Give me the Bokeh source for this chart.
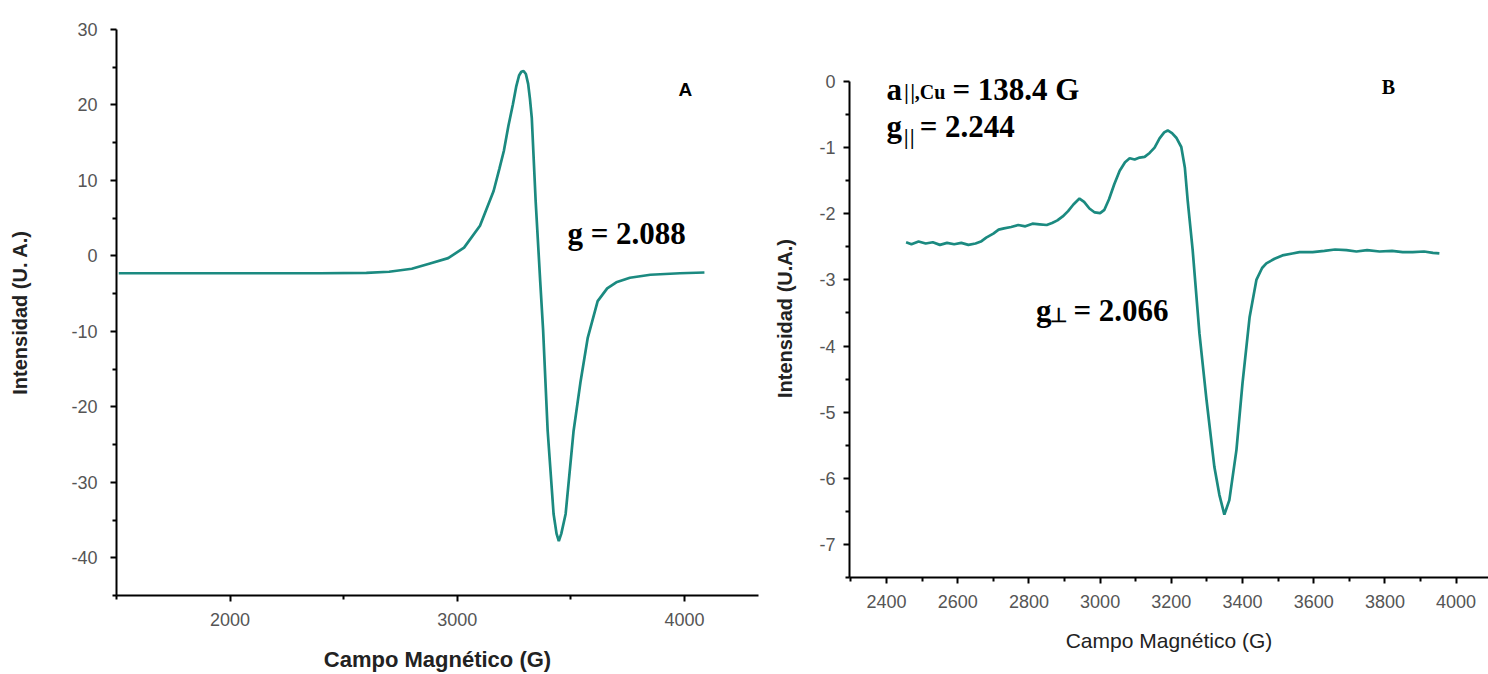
from bokeh.plotting import figure
from bokeh.models import FixedTicker, Label, Range1d, Spacer
from bokeh.layouts import row, column
from bokeh.embed import file_html
from bokeh.resources import INLINE

# ---------------- data: panel A ----------------
a_field = [1510, 1800, 2100, 2400, 2600, 2700, 2800, 2880, 2960, 3030, 3100, 3160,
           3185, 3205, 3225, 3245, 3260, 3272, 3282, 3292, 3302, 3312, 3320, 3328,
           3345, 3365, 3378, 3398, 3424, 3437, 3447, 3458, 3477, 3512, 3543, 3574,
           3618, 3660, 3700, 3760, 3850, 3980, 4088]
a_intensity = [-2.3, -2.3, -2.3, -2.3, -2.25, -2.1, -1.7, -1.0, -0.3, 1.1, 4.0, 8.6,
               11.5, 13.9, 17.2, 20.1, 22.5, 23.9, 24.4, 24.5, 24.1, 22.8, 20.8, 18.3,
               7.3, -3.3, -9.9, -23.2, -34.2, -36.8, -37.8, -36.8, -34.2, -23.2, -16.6, -10.9,
               -6.0, -4.3, -3.5, -2.9, -2.5, -2.3, -2.2]

# ---------------- data: panel B ----------------
b_field = [2455, 2470, 2490, 2510, 2530, 2550, 2570, 2590, 2610, 2630, 2650, 2665,
           2680, 2700, 2715, 2730, 2750, 2770, 2790, 2810, 2830, 2850, 2865, 2880,
           2895, 2910, 2925, 2942, 2955, 2970, 2985, 3000, 3012, 3025, 3040, 3055,
           3070, 3083, 3097, 3111, 3125, 3139, 3153, 3167, 3180, 3190, 3202, 3214,
           3228, 3238, 3246, 3260, 3279, 3299, 3321, 3335, 3349, 3363, 3383, 3400,
           3420, 3439, 3455, 3467, 3490, 3512, 3540, 3560, 3597, 3630, 3660, 3692,
           3720, 3750, 3785, 3820, 3850, 3878, 3910, 3935, 3953]
b_intensity = [-2.43, -2.46, -2.42, -2.45, -2.43, -2.47, -2.44, -2.46, -2.44, -2.47, -2.45, -2.42,
               -2.36, -2.30, -2.24, -2.22, -2.20, -2.17, -2.19, -2.15, -2.16, -2.17, -2.14, -2.10,
               -2.04, -1.96, -1.86, -1.77, -1.82, -1.92, -1.98, -1.99, -1.94, -1.78, -1.55, -1.35,
               -1.22, -1.16, -1.18, -1.15, -1.14, -1.08, -1.00, -0.86, -0.77, -0.74, -0.78, -0.85,
               -0.99, -1.30, -1.80, -2.55, -3.81, -4.82, -5.83, -6.25, -6.55, -6.33, -5.57, -4.56,
               -3.56, -3.00, -2.82, -2.75, -2.68, -2.63, -2.60, -2.58, -2.58, -2.56, -2.54, -2.55,
               -2.57, -2.55, -2.57, -2.56, -2.58, -2.58, -2.57, -2.59, -2.60]

a_xticks = [2000, 3000, 4000]
a_xminor = [1500, 2500, 3500]
a_yticks = [-40, -30, -20, -10, 0, 10, 20, 30]
a_yminor = [-45, -35, -25, -15, -5, 5, 15, 25]
b_xticks = [2400, 2600, 2800, 3000, 3200, 3400, 3600, 3800, 4000]
b_xminor = [2300, 2500, 2700, 2900, 3100, 3300, 3500, 3700, 3900]
b_yticks = [0, -1, -2, -3, -4, -5, -6, -7]
b_yminor = [-0.5, -1.5, -2.5, -3.5, -4.5, -5.5, -6.5, -7.5]
b_ybounds = (-7.5, 0)

LINE = "#1b8a80"
SANS = "Liberation Sans"
SERIF = "Liberation Serif"


def style(p, xt, xm, yt, ym, xlabel, ylabel, xlabel_bold, xlabel_size, ylabel_size):
    p.outline_line_color = None
    p.grid.visible = False
    p.background_fill_color = "white"
    p.border_fill_color = "white"
    for ax in (p.xaxis[0], p.yaxis[0]):
        ax.axis_line_color = "black"
        ax.axis_line_width = 2
        ax.major_tick_line_color = "black"
        ax.major_tick_line_width = 2
        ax.minor_tick_line_color = "black"
        ax.minor_tick_line_width = 2
        ax.major_tick_out = 6
        ax.major_tick_in = 0
        ax.minor_tick_out = 4
        ax.minor_tick_in = 0
        ax.major_label_text_font = SANS
        ax.major_label_text_font_size = "18px"
        ax.major_label_text_color = "#555555"
        ax.axis_label_text_font = SANS
        ax.axis_label_text_color = "#222222"
    p.xaxis[0].ticker = FixedTicker(ticks=xt, minor_ticks=xm)
    p.yaxis[0].ticker = FixedTicker(ticks=yt, minor_ticks=ym)
    p.yaxis[0].major_label_overrides = {v: str(v) for v in yt}
    p.xaxis[0].major_label_overrides = {v: str(v) for v in xt}
    p.xaxis[0].axis_label = xlabel
    p.yaxis[0].axis_label = ylabel
    p.xaxis[0].axis_label_text_font_style = "bold" if xlabel_bold else "normal"
    p.yaxis[0].axis_label_text_font_style = "bold"
    p.xaxis[0].axis_label_text_font_size = xlabel_size
    p.yaxis[0].axis_label_text_font_size = ylabel_size
    p.xaxis[0].major_label_standoff = 11
    p.xaxis[0].axis_label_standoff = 18


# ---------------- panel A ----------------
pa = figure(width=760, height=674, output_backend="svg", toolbar_location=None,
            x_range=Range1d(1500, 4326), y_range=Range1d(-45, 30),
            min_border_left=116, min_border_right=2, min_border_top=29, min_border_bottom=79)
style(pa, a_xticks, a_xminor, a_yticks, a_yminor,
      "Campo Magnético (G)", "Intensidad (U. A.)", True, "22px", "20px")
pa.yaxis[0].major_label_standoff = 13
pa.yaxis[0].axis_label_standoff = 37
pa.line(a_field, a_intensity, line_color=LINE, line_width=2.7)

pa.add_layout(Label(x=3485, y=3.0, text="g = 2.088", text_font=SERIF, text_font_style="bold",
                    text_font_size="31px", text_color="black", text_baseline="alphabetic"))
pa.add_layout(Label(x=4004, y=22.1, text="A", text_font=SANS, text_font_style="bold",
                    text_font_size="19px", text_color="black", text_align="center",
                    text_baseline="middle"))

# ---------------- panel B ----------------
# frame reaches a little above 0 so the annotations are not clipped; the axis line stops at 0
pb = figure(width=728, height=644, output_backend="svg", toolbar_location=None,
            x_range=Range1d(2296, 4091), y_range=Range1d(-7.5, 0.333),
            min_border_left=89, min_border_right=0, min_border_top=29, min_border_bottom=97)
style(pb, b_xticks, b_xminor, b_yticks, b_yminor,
      "Campo Magnético (G)", "Intensidad (U.A.)", False, "21px", "20px")
pb.yaxis[0].bounds = b_ybounds
pb.yaxis[0].major_label_standoff = 8
pb.yaxis[0].axis_label_standoff = 20
pb.line(b_field, b_intensity, line_color=LINE, line_width=2.7)


def lab(p, x, y, t, size):
    p.add_layout(Label(x=x, y=y, text=t, text_font=SERIF, text_font_style="bold",
                       text_font_size=size, text_color="black", text_baseline="alphabetic"))


lab(pb, 2400, -0.12, "a", "31px")
lab(pb, 2450, -0.16, "|\u200a|,Cu", "20px")
lab(pb, 2585, -0.12, "= 138.4 G", "31px")
lab(pb, 2400, -0.68, "g", "31px")
lab(pb, 2449, -0.84, "|\u200a|", "20px")
lab(pb, 2493, -0.68, "= 2.244", "31px")
lab(pb, 2820, -3.47, "g", "31px")
lab(pb, 2860, -3.53, "\u22a5", "20px")
lab(pb, 2925, -3.47, "= 2.066", "31px")
pb.add_layout(Label(x=3810, y=-0.09, text="B", text_font=SERIF, text_font_style="bold",
                    text_font_size="20px", text_color="black", text_align="center",
                    text_baseline="middle"))

layout = row(pa, column(Spacer(width=728, height=30), pb))
open("out.html", "w").write(file_html(layout, INLINE))
